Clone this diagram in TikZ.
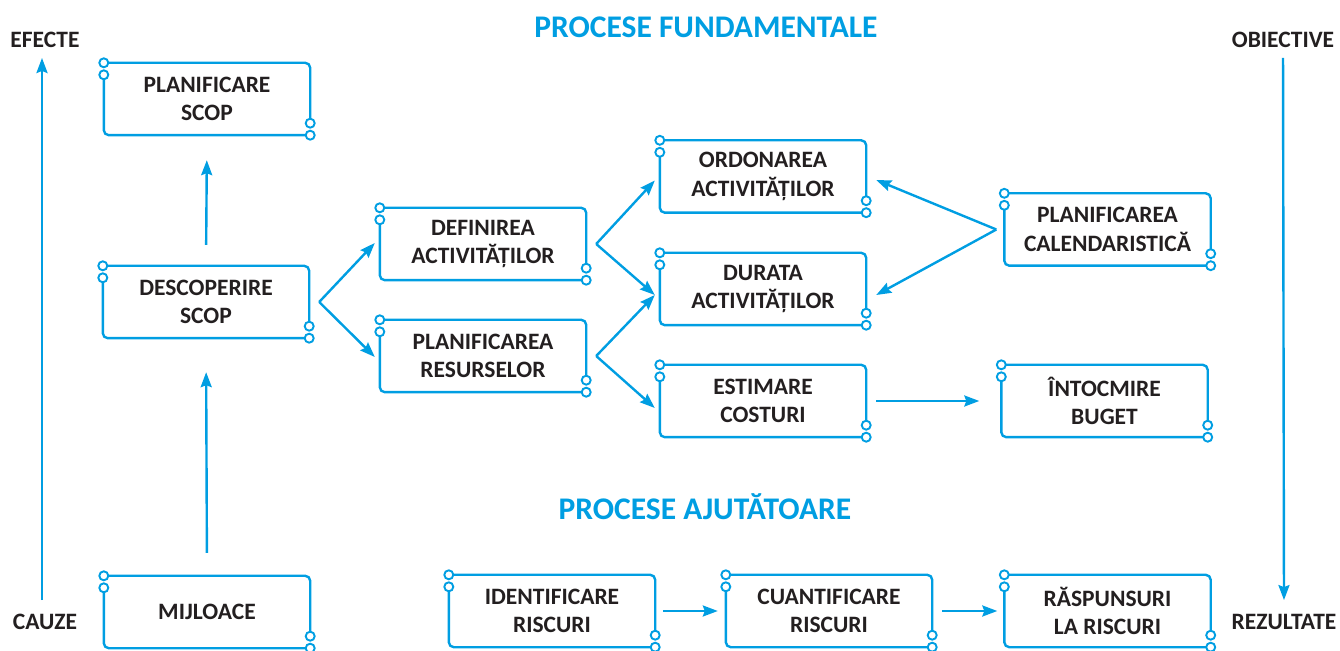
\documentclass[tikz,border=0pt]{standalone}
\usepackage{fontspec}
\setmainfont{Carlito}
\usetikzlibrary{arrows.meta}
\definecolor{procblue}{RGB}{0,158,226}
\definecolor{textdark}{RGB}{35,31,32}

\begin{document}
\begin{tikzpicture}[x=1pt, y=1pt,
    box/.style={minimum width=206pt, minimum height=72pt, inner sep=0pt,
        align=center, text=textdark, font=\fontsize{23.5}{28.5}\selectfont\bfseries},
    side/.style={text=textdark, inner sep=0pt, font=\fontsize{23.5}{26}\selectfont\bfseries},
    title/.style={text=procblue, inner sep=0pt, font=\fontsize{31.5}{34}\selectfont\bfseries},
    frame/.style={draw=procblue, line width=2.4pt, rounded corners=5pt},
    dot/.style={draw=procblue, fill=white, line width=1.9pt},
    arr/.style={draw=procblue, line width=2.4pt,
        -{Stealth[length=15pt, width=11pt, inset=2pt]}}
]
    \useasboundingbox (0,0) rectangle (1340,650);

    \node[title] (tf) at (706,623) {PROCESE FUNDAMENTALE};
    \node[title] (ta) at (705,143) {PROCESE AJUTĂTOARE};

    \node[side] (efecte) at (45,610) {EFECTE};
    \node[side] (cauze) at (45,28) {CAUZE};
    \node[side] (obiective) at (1283,610) {OBIECTIVE};
    \node[side] (rezultate) at (1284,28) {REZULTATE};

    \node[box] (ps) at (207,551) {PLANIFICARE\\SCOP};
    \node[box] (ds) at (206,348) {DESCOPERIRE\\SCOP};
    \node[box] (mj) at (207,38) {MIJLOACE};
    \node[box] (da) at (483,406) {DEFINIREA\\ACTIVITĂȚILOR};
    \node[box] (pr) at (483,294) {PLANIFICAREA\\RESURSELOR};
    \node[box] (oa) at (763,473.5) {ORDONAREA\\ACTIVITĂȚILOR};
    \node[box] (du) at (763,361) {DURATA\\ACTIVITĂȚILOR};
    \node[box] (ec) at (763,249) {ESTIMARE\\COSTURI};
    \node[box] (pc) at (1107.5,420.5) {PLANIFICAREA\\CALENDARISTICĂ};
    \node[box] (ib) at (1104.5,249) {ÎNTOCMIRE\\BUGET};
    \node[box] (ir) at (552,39) {IDENTIFICARE\\RISCURI};
    \node[box] (cr) at (829,39) {CUANTIFICARE\\RISCURI};
    \node[box] (rr) at (1107.5,39) {RĂSPUNSURI\\LA RISCURI};

    \foreach \n in {ps,ds,mj,da,pr,oa,du,ec,pc,ib,ir,cr,rr} {
        \draw[frame] (\n.north west) -- (\n.north east) -- ([yshift=12pt]\n.south east);
        \draw[frame] ([yshift=-12pt]\n.north west) -- (\n.south west) -- (\n.south east);
        \draw[dot] (\n.north west) circle (4.5pt) ([yshift=-12pt]\n.north west) circle (4.5pt)
            ([yshift=12pt]\n.south east) circle (4.5pt) (\n.south east) circle (4.5pt);
    }

    \coordinate (f1) at ([xshift=10pt]ds.east);
    \coordinate (f2) at ([xshift=10pt]da.east);
    \coordinate (f3) at ([xshift=10pt]pr.east);
    \coordinate (f4) at ([xshift=-8pt]pc.west);

    \draw[arr, shorten <=21pt, shorten >=25pt] (ds.north) -- (ps.south);
    \draw[arr, shorten <=23pt, shorten >=34pt] (mj.north) -- (ds.south);
    \draw[arr] (f1) -- ([shift={(-5pt,1pt)}]da.west);
    \draw[arr] (f1) -- ([shift={(-5pt,-1pt)}]pr.west);
    \draw[arr] (f2) -- ([shift={(-5pt,-4pt)}]oa.west);
    \draw[arr] (f2) -- ([shift={(-5pt,-6pt)}]du.west);
    \draw[arr] (f3) -- ([shift={(-5pt,-6pt)}]du.west);
    \draw[arr] (f3) -- ([shift={(-5pt,-7pt)}]ec.west);
    \draw[arr] (f4) -- ([shift={(10pt,-3.5pt)}]oa.east);
    \draw[arr] (f4) -- ([shift={(10pt,-6pt)}]du.east);
    \draw[arr, shorten <=10pt, shorten >=22pt] (ec.east) -- (ib.west);
    \draw[arr, shorten <=8pt, shorten >=8pt] (ir.east) -- (cr.west);
    \draw[arr, shorten <=10pt, shorten >=7pt] (cr.east) -- (rr.west);

    \draw[arr, shorten <=14pt, shorten >=10pt] ([xshift=-3pt]cauze.north) -- ([xshift=-3pt]efecte.south);
    \draw[arr, shorten <=10pt, shorten >=14pt] (obiective.south) -- (rezultate.north);
\end{tikzpicture}
\end{document}
